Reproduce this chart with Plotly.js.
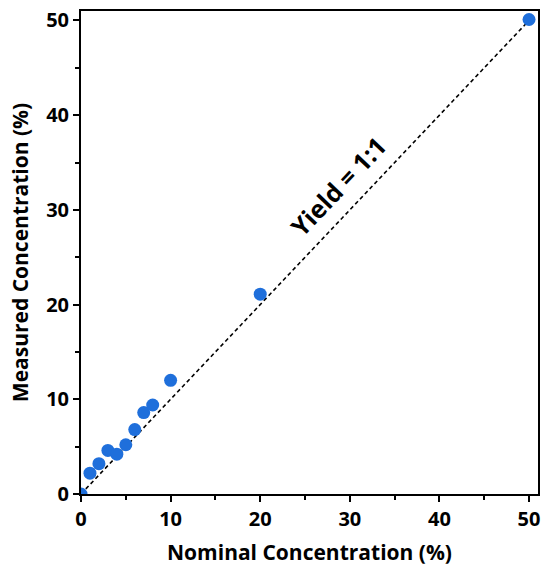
<!DOCTYPE html>
<html>
<head>
<meta charset="utf-8">
<script src="https://cdn.plot.ly/plotly-3.0.1.min.js"></script>
<style>html,body{margin:0;padding:0;background:#fff;}#chart{width:543px;height:573px;}</style>
</head>
<body>
<div id="chart"></div>
<script>
const nominal = [0, 1, 2, 3, 4, 5, 6, 7, 8, 10, 20, 50];
const measured = [0, 2.2, 3.2, 4.6, 4.2, 5.2, 6.8, 8.6, 9.4, 12.0, 21.1, 50.1];
const refX = [0, 50];
const refY = [0, 50];
const tickVals = [0, 10, 20, 30, 40, 50];
const tickText = ["0", "10", "20", "30", "40", "50"];
const FONT = "Open Sans, sans-serif";

const traces = [
  {x: refX, y: refY, mode: 'lines', line: {color: '#000', width: 1.6, dash: '4px,3px'}, hoverinfo: 'skip', showlegend: false},
  {x: nominal, y: measured, mode: 'markers', marker: {color: '#1F6FDB', size: 13}, cliponaxis: true, showlegend: false}
];

function axis(title) {
  return {
    range: [0, 51], tickvals: tickVals, ticktext: tickText,
    ticks: 'outside', ticklen: 6, tickwidth: 2, tickcolor: '#000',
    minor: {dtick: 5, tick0: 0, ticks: 'outside', ticklen: 4, tickwidth: 2, tickcolor: '#000', showgrid: false},
    showline: true, linewidth: 2, linecolor: '#000', mirror: true,
    showgrid: false, zeroline: false,
    tickfont: {family: FONT, size: 20, color: '#000', weight: 'bold'},
    title: {text: title, font: {family: FONT, size: 21, color: '#000', weight: 'bold'}}
  };
}

const xa = axis('Nominal Concentration (%)');
xa.title.standoff = 14;
const ya = axis('Measured Concentration (%)');
ya.title.standoff = 12;

const layout = {
  width: 543, height: 573,
  margin: {l: 81, r: 5, t: 11, b: 79},
  paper_bgcolor: '#fff', plot_bgcolor: '#fff',
  xaxis: xa, yaxis: ya,
  annotations: [{
    x: 28.7, y: 32.5, xref: 'x', yref: 'y', text: 'Yield = 1:1', showarrow: false,
    textangle: -46.6, font: {family: FONT, size: 25, color: '#000', weight: 'bold'}
  }]
};

Plotly.newPlot('chart', traces, layout, {displayModeBar: false, staticPlot: true});
</script>
</body>
</html>
